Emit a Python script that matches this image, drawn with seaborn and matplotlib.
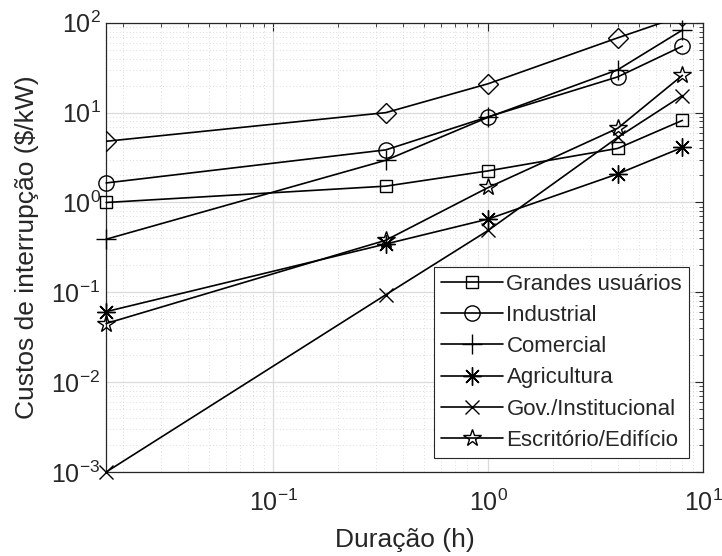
import numpy as np
import pandas as pd
import matplotlib
matplotlib.use('Agg')
import matplotlib.pyplot as plt
import seaborn as sns
from matplotlib.ticker import LogLocator, NullFormatter

# Data
duracao = [1/60, 20/60, 1, 4, 8]
grandes = [1.0, 1.52, 2.25, 4.0, 8.2]
industrial = [1.65, 3.85, 9.0, 25.0, 55.0]
comercial = [0.39, 2.95, 8.9, 30.0, 83.0]
agricultura = [0.061, 0.345, 0.655, 2.08, 4.1]
gov = [0.001, 0.094, 0.49, 5.3, 15.5]
escritorio = [0.045, 0.38, 1.47, 6.7, 26.0]
residencial = [4.8, 10.0, 21.0, 68.0, 120.0]

labels = ["Grandes usuários", "Industrial", "Comercial", "Agricultura",
          "Gov./Institucional", "Escritório/Edifício"]
series = [grandes, industrial, comercial, agricultura, gov, escritorio]
markers = ["s", "o", "+", (8, 2, 0), "x", "*"]
msizes = [9, 11, 14, 13, 10, 13]

sns.set_theme(style="white")
plt.rcParams['font.family'] = ['Liberation Sans', 'DejaVu Sans']
plt.rcParams['mathtext.fontset'] = 'custom'
plt.rcParams['mathtext.rm'] = 'Liberation Sans'
plt.rcParams['mathtext.it'] = 'Liberation Sans'

fig = plt.figure(figsize=(7.22, 5.56), dpi=100)
ax = fig.add_axes([0.147, 0.151, 0.827, 0.808])

for vals, lab, mk, ms in zip(series, labels, markers, msizes):
    df = pd.DataFrame({"x": duracao, "y": vals})
    sns.lineplot(data=df, x="x", y="y", ax=ax, color="black", lw=1.2,
                 marker=mk, markersize=ms, markerfacecolor="none",
                 markeredgecolor="black", markeredgewidth=1.0,
                 label=lab, legend=False, clip_on=False, zorder=3)
df = pd.DataFrame({"x": duracao, "y": residencial})
sns.lineplot(data=df, x="x", y="y", ax=ax, color="black", lw=1.2,
             marker="D", markersize=10, markerfacecolor="none",
             markeredgecolor="black", markeredgewidth=1.0, legend=False,
             zorder=3)

ax.set_xscale("log")
ax.set_yscale("log")
ax.set_xlim(1/60, 10)
ax.set_ylim(1e-3, 1e2)

ax.xaxis.set_major_locator(LogLocator(base=10, numticks=10))
ax.xaxis.set_minor_locator(LogLocator(base=10, subs=np.arange(2, 10), numticks=20))
ax.xaxis.set_minor_formatter(NullFormatter())
ax.yaxis.set_major_locator(LogLocator(base=10, numticks=10))
ax.yaxis.set_minor_locator(LogLocator(base=10, subs=np.arange(2, 10), numticks=20))
ax.yaxis.set_minor_formatter(NullFormatter())

ax.grid(True, which="major", color="0.86", lw=0.9, ls="-")
ax.grid(True, which="minor", color="0.82", lw=0.6, ls=(0, (1, 3)))
ax.set_axisbelow(True)

ax.tick_params(which="both", direction="in", top=True, right=True,
               colors="0.15", labelcolor="0.15", labelsize=18)
ax.tick_params(which="major", length=6, width=0.8, pad=4)
ax.tick_params(axis="x", which="major", pad=13)
ax.tick_params(which="minor", length=3, width=0.6)
for s in ax.spines.values():
    s.set_color("0.15")
    s.set_linewidth(0.9)

ax.set_xlabel("Duração (h)", fontsize=19, color="0.15", labelpad=8)
ax.set_ylabel("Custos de interrupção ($/kW)", fontsize=19, color="0.15", labelpad=9)

leg = ax.legend(loc="lower right", fontsize=16, frameon=True, fancybox=False,
                framealpha=1, edgecolor="0.15", handlelength=2.8,
                handletextpad=0.15, borderpad=0.3, labelspacing=0.46,
                borderaxespad=0.65)
leg.get_frame().set_linewidth(0.8)

fig.savefig("out.png", dpi=100)
